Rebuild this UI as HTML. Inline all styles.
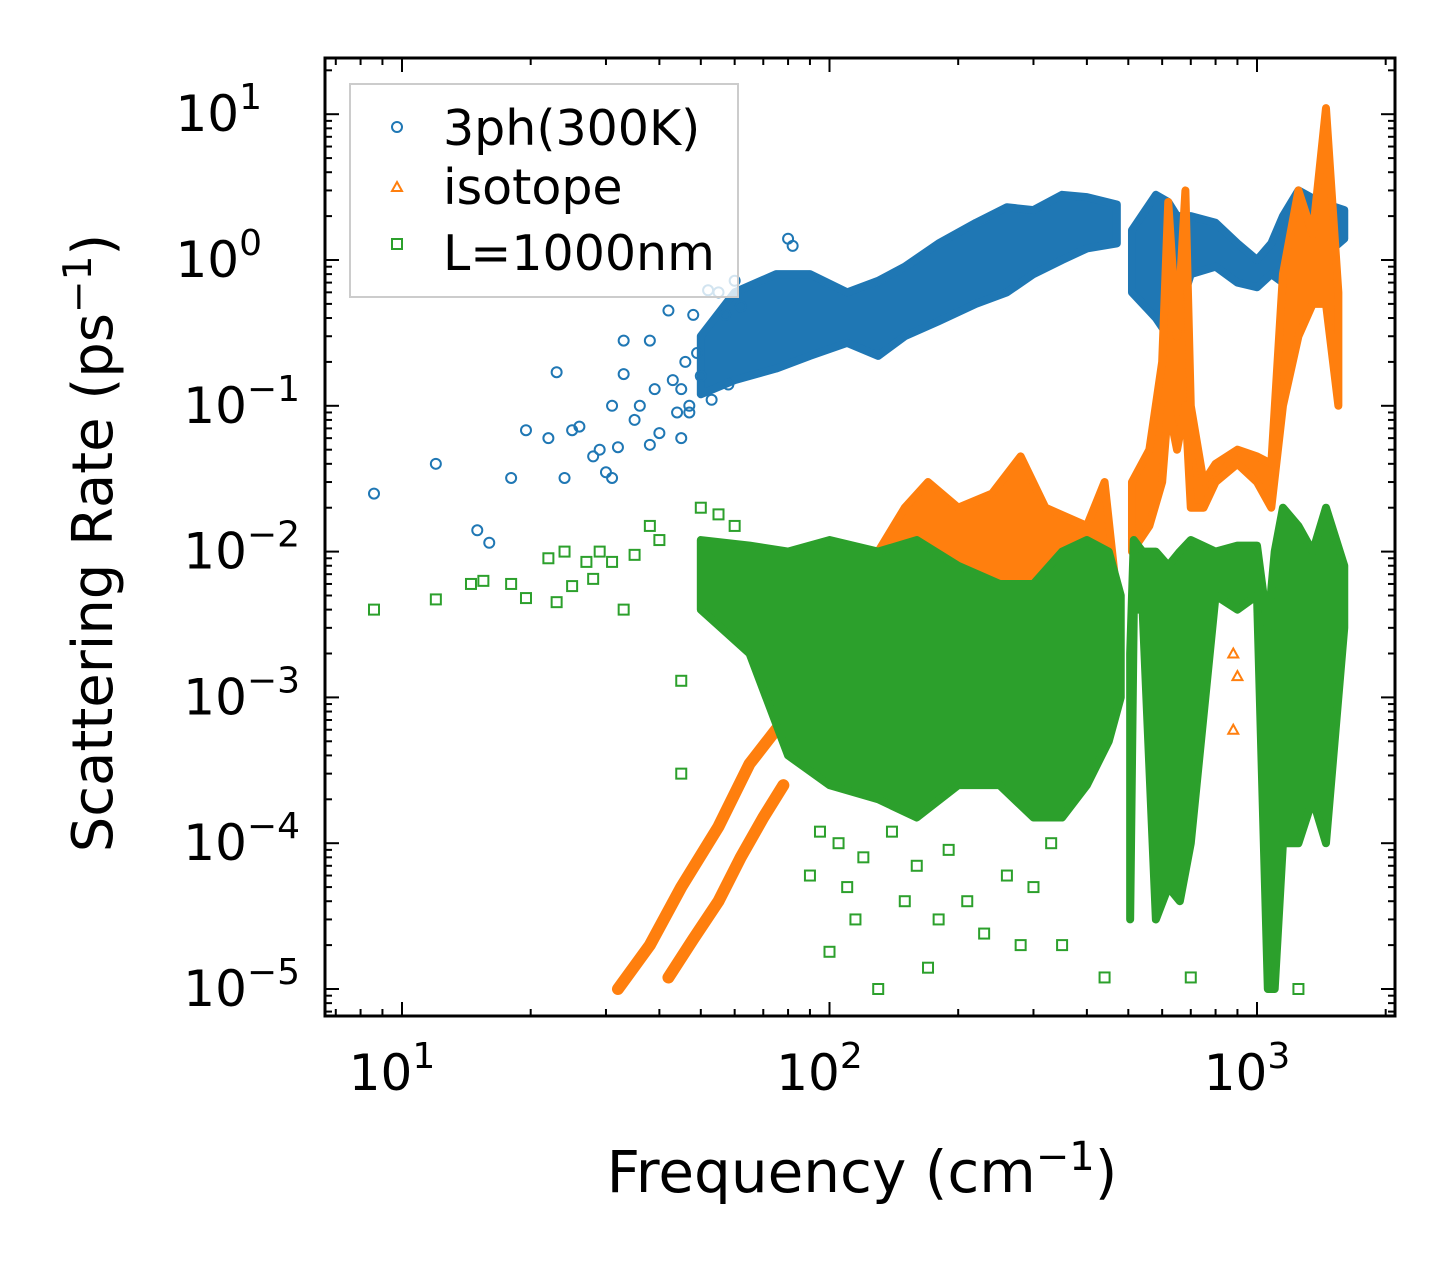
<!DOCTYPE html>
<html><head><meta charset="utf-8"><style>
html,body{margin:0;padding:0;background:#fff;}
svg text{font-family:"DejaVu Sans","Liberation Sans",sans-serif;fill:#000;}
</style></head><body>
<svg id="chart" width="1455" height="1265" viewBox="0 0 1455 1265" xmlns="http://www.w3.org/2000/svg">
<g id="plot"></g>
<g id="axes"></g>
<text x="862" y="1192" font-size="58" text-anchor="middle">Frequency (cm<tspan dy="-22" font-size="40">−1</tspan><tspan dy="22">)</tspan></text>
<text transform="translate(112,543) rotate(-90)" font-size="56" text-anchor="middle">Scattering Rate (ps<tspan dy="-21" font-size="39">−1</tspan><tspan dy="21">)</tspan></text>
<g>
<rect x="350" y="84" width="388" height="213" fill="#fff" fill-opacity="0.8" stroke="#ccc" stroke-width="2"/>
<circle cx="397" cy="127" r="5" fill="none" stroke="#1f77b4" stroke-width="2"/>
<text x="443" y="145" font-size="49">3ph(300K)</text>
<path d="M397,182 L402,191 L392,191 Z" fill="none" stroke="#ff7f0e" stroke-width="2"/>
<text x="443" y="204" font-size="49">isotope</text>
<rect x="392" y="239" width="10" height="10" fill="none" stroke="#2ca02c" stroke-width="2"/>
<text x="443" y="270" font-size="49">L=1000nm</text>
</g>
</svg>
<script>
// ---- data ----
const bluePtsF=[8.6,12,15,16,18,19.5,22,23,24,25,26,28,29,30,31,31,32,33,33,35,36,38,38,39,40,42,43,44,45,46,47,48,49,52,55,57,60,62,80,82,45,47,50,53,58];
const bluePtsV=[0.025,0.04,0.014,0.0115,0.032,0.068,0.06,0.17,0.032,0.068,0.072,0.045,0.05,0.035,0.1,0.032,0.052,0.165,0.28,0.08,0.1,0.28,0.054,0.13,0.065,0.45,0.15,0.09,0.06,0.2,0.1,0.42,0.23,0.62,0.6,0.42,0.72,0.48,1.4,1.25,0.13,0.09,0.16,0.11,0.14];
const blueBand1F=[50,60,75,90,110,130,150,180,220,260,300,350,400,470];
const blueBand1Lo=[0.12,0.15,0.18,0.22,0.27,0.22,0.3,0.38,0.5,0.6,0.8,1.0,1.2,1.3];
const blueBand1Hi=[0.3,0.6,0.8,0.8,0.6,0.72,0.9,1.3,1.8,2.3,2.2,2.8,2.7,2.4];
const blueBand2F=[510,580,620,650,700,800,900,1000,1080,1150,1250,1400,1600];
const blueBand2Lo=[0.6,0.4,0.3,0.4,0.8,0.9,0.7,0.65,0.8,0.7,0.7,1.0,1.4];
const blueBand2Hi=[1.6,2.8,2.5,2.0,2.0,1.8,1.3,1.0,1.3,2.0,3.0,2.5,2.2];
const orgBranchAF=[32,38,45,55,65,75,90];
const orgBranchAV=[1e-5,2e-5,5e-5,1.3e-4,3.5e-4,6e-4,1e-3];
const orgBranchBF=[42,48,55,62,70,78];
const orgBranchBV=[1.2e-5,2.2e-5,4e-5,8e-5,1.5e-4,2.5e-4];
const orgBand2F=[100,130,150,170,200,240,280,320,400,440,470];
const orgBand2Lo=[0.002,0.003,0.004,0.004,0.004,0.004,0.004,0.004,0.004,0.004,0.003];
const orgBand2Hi=[0.005,0.01,0.02,0.03,0.02,0.025,0.045,0.02,0.015,0.03,0.005];
const orgBand3F=[510,560,600,620,650,680,700,750,800,900,1000,1080,1150,1250,1350,1450,1550];
const orgBand3Lo=[0.01,0.015,0.03,0.1,0.05,0.1,0.02,0.02,0.03,0.04,0.03,0.02,0.1,0.3,0.5,0.5,0.1];
const orgBand3Hi=[0.03,0.05,0.2,2.5,0.3,3.0,0.1,0.03,0.04,0.05,0.045,0.04,0.8,3.0,1.5,11,0.6];
const orgPtsF=[620,630,640,650,660,880,900,1080,1100,1120,1350,1400,1450,700,880,1080];
const orgPtsV=[0.002,0.001,0.0006,0.0004,0.002,0.002,0.0014,0.002,0.0008,0.002,0.0006,0.003,0.0007,0.0007,0.0006,0.0007];
const grnPtsF=[8.6,12,14.5,15.5,18,19.5,22,23,24,25,27,28,29,31,33,35,38,40,45,45,50,55,60,100,115,130,170,230,280,350,440,700,1250,90,110,150,180,210,95,105,120,140,160,190,260,300,330];
const grnPtsV=[0.004,0.0047,0.006,0.0063,0.006,0.0048,0.009,0.0045,0.01,0.0058,0.0085,0.0065,0.01,0.0085,0.004,0.0095,0.015,0.012,0.0013,0.0003,0.02,0.018,0.015,1.8e-5,3e-5,1e-5,1.4e-5,2.4e-5,2e-5,2e-5,1.2e-5,1.2e-5,1e-5,6e-5,5e-5,4e-5,3e-5,4e-5,1.2e-4,1e-4,8e-5,1.2e-4,7e-5,9e-5,6e-5,5e-5,1e-4];
const grnBand1F=[50,65,80,100,130,160,200,250,300,350,400,450,480];
const grnBand1Lo=[0.004,0.002,4e-4,2.5e-4,2e-4,1.5e-4,2.5e-4,2.5e-4,1.5e-4,1.5e-4,2.5e-4,5e-4,1e-3];
const grnBand1Hi=[0.012,0.011,0.01,0.012,0.01,0.012,0.008,0.006,0.006,0.01,0.012,0.01,0.005];
const grnBand2F=[505,515,540,580,620,660,700,800,900,1000,1060,1100,1150,1250,1350,1450,1600];
const grnBand2Lo=[3e-5,0.004,0.004,3e-5,5e-5,4e-5,1e-4,0.005,0.004,0.005,1e-5,1e-5,1e-4,1e-4,2e-4,1e-4,0.003];
const grnBand2Hi=[0.002,0.012,0.01,0.01,0.008,0.01,0.012,0.01,0.011,0.011,0.003,0.01,0.02,0.015,0.01,0.02,0.008];
const xTicks=[10,100,1000];
const xTickLabels=["1","2","3"];
const yTicks=[10,1,0.1,0.01,0.001,1e-4,1e-5];
const yTickLabels=["1","0","−1","−2","−3","−4","−5"];
// ---- axes ----
const L=325,R=1395,T=58,B=1016;
function X(f){return 402+427.5*(Math.log10(f)-1);}
function Y(v){return 260-145.8*Math.log10(v);}
const NS="http://www.w3.org/2000/svg";
const plot=document.getElementById('plot'),axes=document.getElementById('axes');
function mk(tag,at,parent){const e=document.createElementNS(NS,tag);for(const k in at)e.setAttribute(k,at[k]);parent.appendChild(e);return e;}
function band(F,Lo,Hi,color,name){
  let d='M'+F.map((f,i)=>X(f)+','+Y(Hi[i])).join(' L');
  for(let i=F.length-1;i>=0;i--)d+=' L'+X(F[i])+','+Y(Lo[i]);
  const p=mk('path',{d:d+'Z',fill:color,stroke:color,'stroke-width':8,'stroke-linejoin':'round'},plot);
  
  
}
function line(F,V,color,name){
  const d='M'+F.map((f,i)=>X(f)+','+Y(V[i])).join(' L');
  const p=mk('path',{d:d,fill:'none',stroke:color,'stroke-width':12,'stroke-linejoin':'round','stroke-linecap':'round'},plot);
  
  
}
function pts(F,V,shape,color,name){
  F.forEach((f,i)=>{
    const x=X(f),y=Y(V[i]);let e;
    if(shape==='c')e=mk('circle',{cx:x,cy:y,r:5,fill:'none',stroke:color,'stroke-width':2},plot);
    else if(shape==='t')e=mk('path',{d:`M${x},${y-5} L${x+5},${y+4} L${x-5},${y+4} Z`,fill:'none',stroke:color,'stroke-width':2},plot);
    else e=mk('rect',{x:x-5,y:y-5,width:10,height:10,fill:'none',stroke:color,'stroke-width':2},plot);
    
    
  });
}
band(blueBand1F,blueBand1Lo,blueBand1Hi,'#1f77b4','3ph-band-low');
band(blueBand2F,blueBand2Lo,blueBand2Hi,'#1f77b4','3ph-band-high');
pts(bluePtsF,bluePtsV,'c','#1f77b4','3ph-point');
line(orgBranchAF,orgBranchAV,'#ff7f0e','isotope-branch-a');
line(orgBranchBF,orgBranchBV,'#ff7f0e','isotope-branch-b');
band(orgBand2F,orgBand2Lo,orgBand2Hi,'#ff7f0e','isotope-band-mid');
band(orgBand3F,orgBand3Lo,orgBand3Hi,'#ff7f0e','isotope-band-high');
pts(orgPtsF,orgPtsV,'t','#ff7f0e','isotope-point');
band(grnBand1F,grnBand1Lo,grnBand1Hi,'#2ca02c','boundary-band-low');
band(grnBand2F,grnBand2Lo,grnBand2Hi,'#2ca02c','boundary-band-high');
pts(grnPtsF,grnPtsV,'s','#2ca02c','boundary-point');
const frame=mk('rect',{x:L,y:T,width:R-L,height:B-T,fill:'none',stroke:'#000','stroke-width':3},axes);


for(let d=0;d<4;d++){for(let m=1;m<10;m++){const f=Math.pow(10,d)*m;const x=X(f);if(x<L||x>R)continue;const len=m===1?14:7;
  mk('line',{x1:x,y1:B,x2:x,y2:B-len,stroke:'#000','stroke-width':2},axes);
  mk('line',{x1:x,y1:T,x2:x,y2:T+len,stroke:'#000','stroke-width':2},axes);}}
for(let d=-6;d<2;d++){for(let m=1;m<10;m++){const v=Math.pow(10,d)*m;const y=Y(v);if(y<T||y>B)continue;const len=m===1?14:7;
  mk('line',{x1:L,y1:y,x2:L+len,y2:y,stroke:'#000','stroke-width':2},axes);
  mk('line',{x1:R,y1:y,x2:R-len,y2:y,stroke:'#000','stroke-width':2},axes);}}
xTicks.forEach((f,i)=>{
  const t=mk('text',{x:X(f)-10,y:1090,'font-size':50,'text-anchor':'middle'},axes);
  
  
  t.innerHTML='10<tspan dy="-22" font-size="36">'+xTickLabels[i]+'</tspan>';
});
yTicks.forEach((v,i)=>{
  const t=mk('text',{x:300,y:Y(v)+17,'font-size':50,'text-anchor':'end'},axes);
  
  
  t.innerHTML='10<tspan dy="-22" font-size="36">'+yTickLabels[i]+'</tspan>';
  if(yTickLabels[i].length===1)t.setAttribute('x', 262);
});
</script>
</body></html>
